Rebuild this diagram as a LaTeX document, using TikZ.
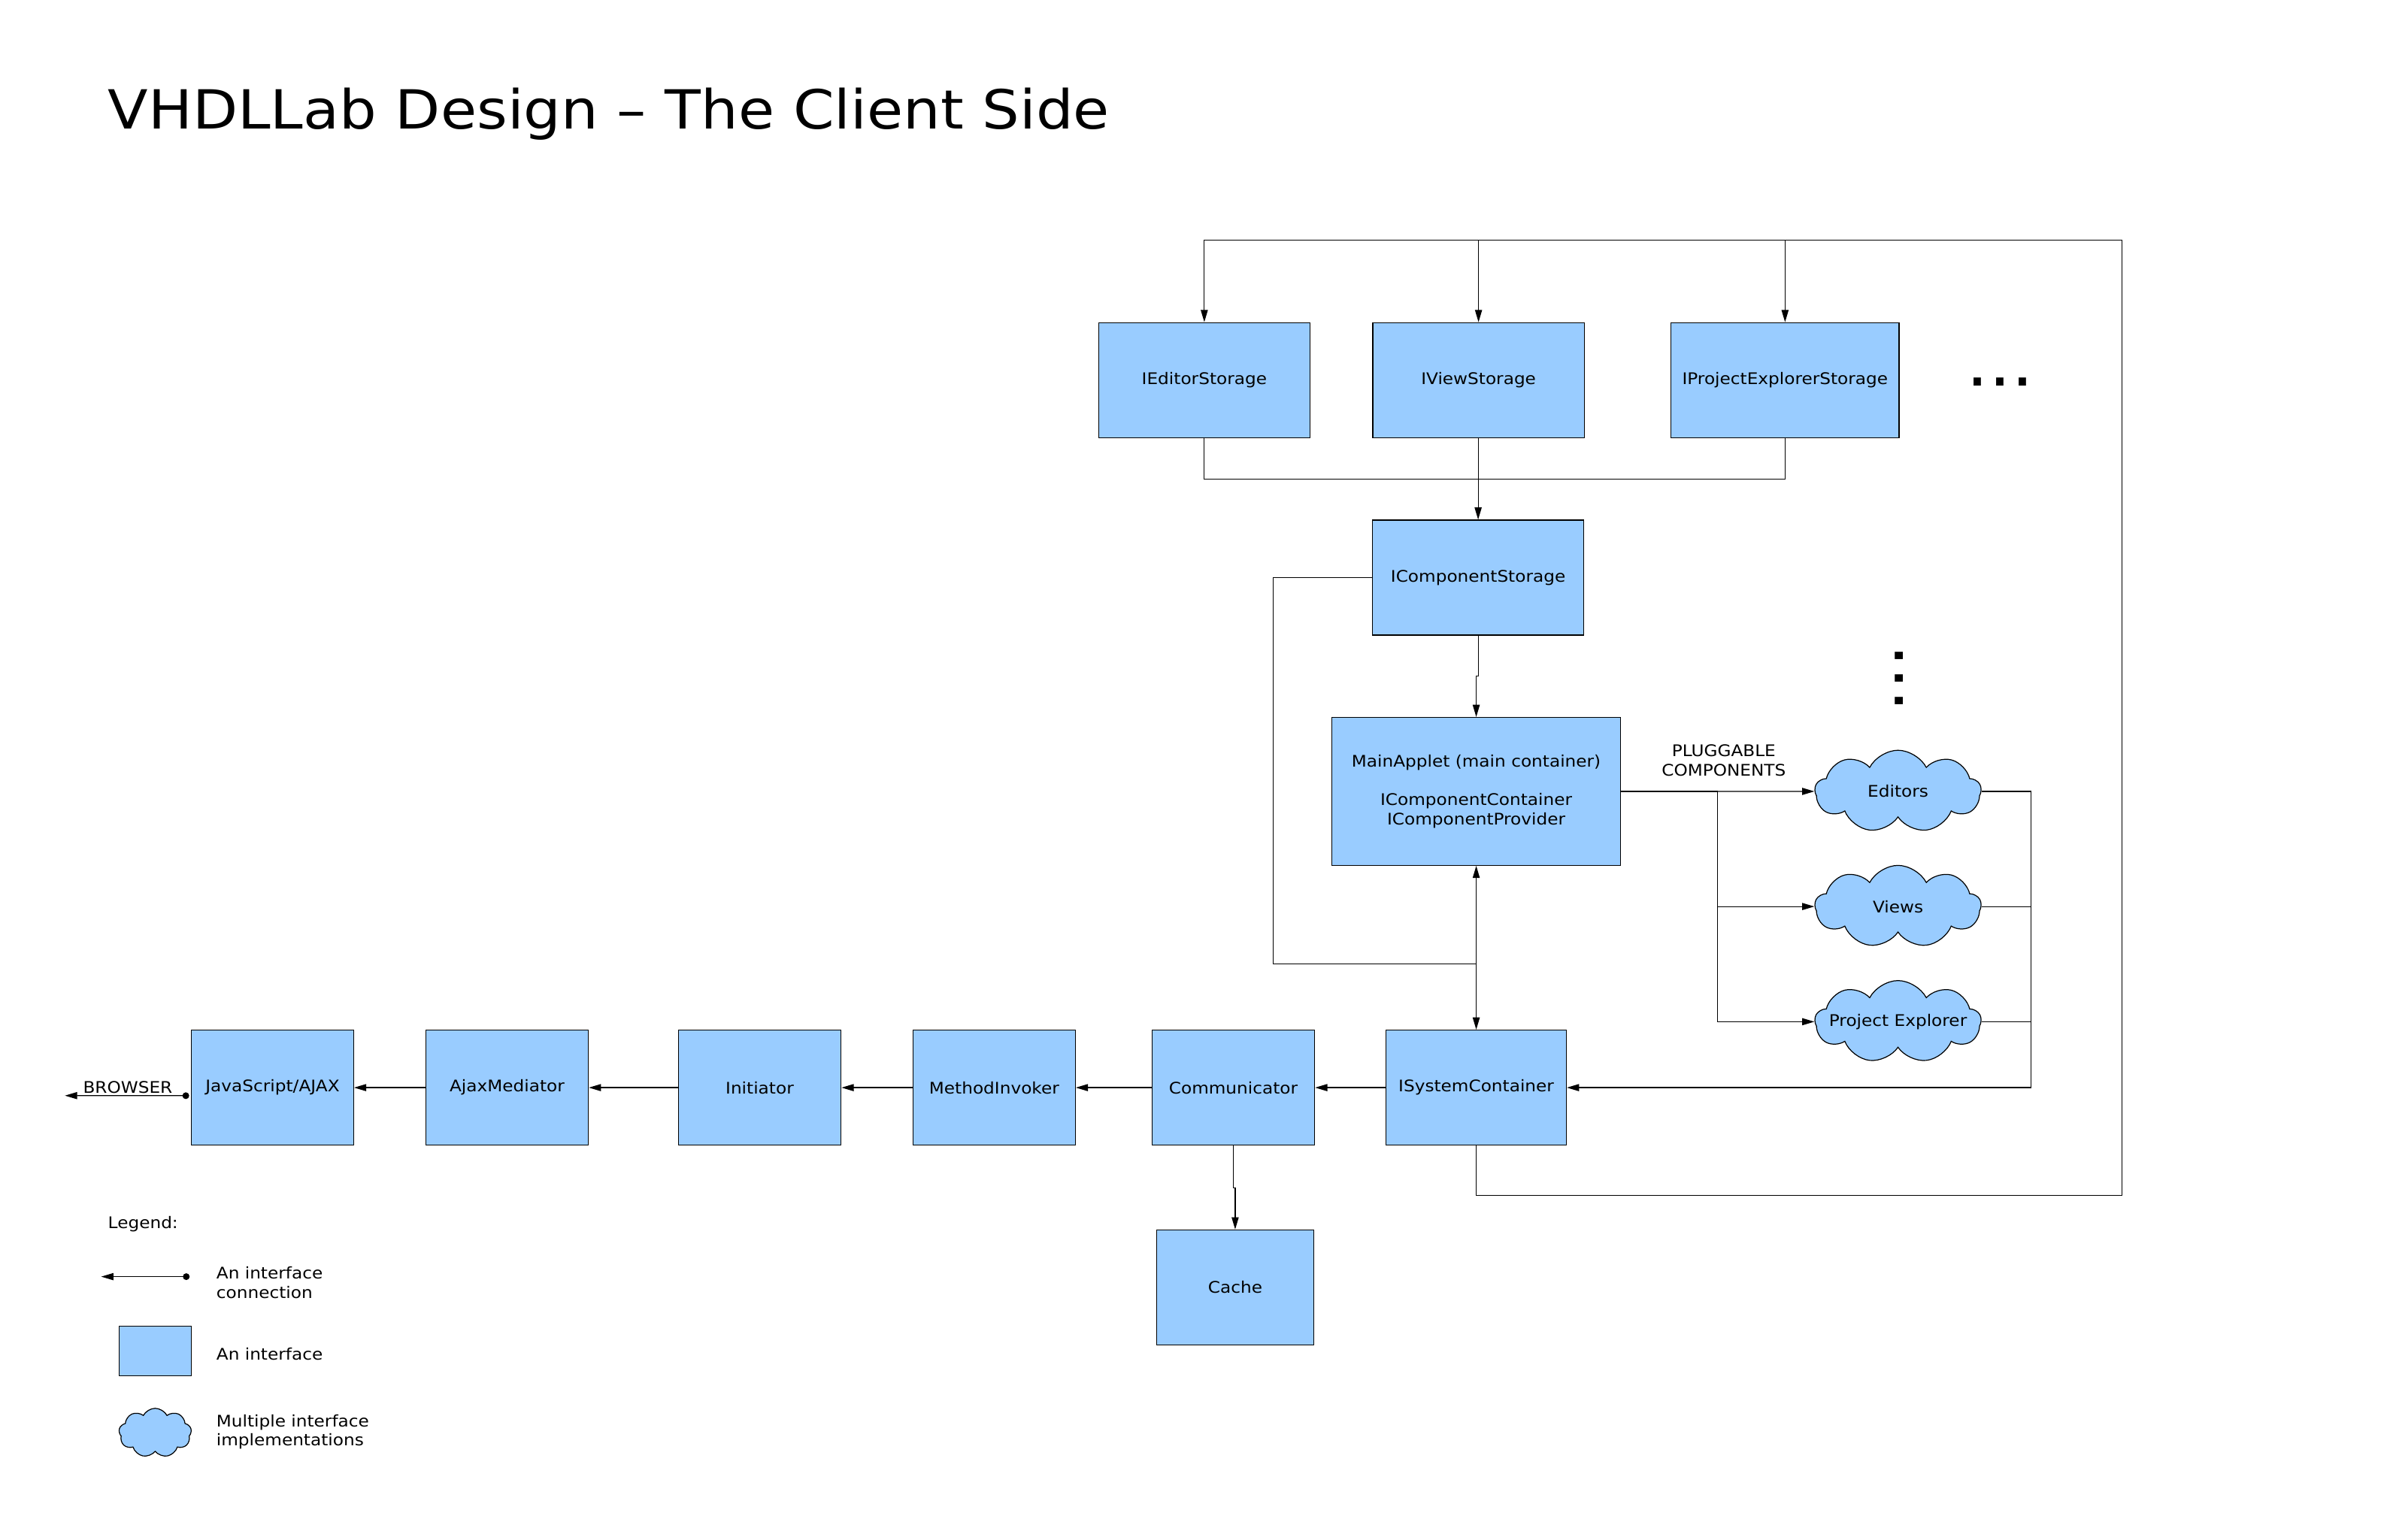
\documentclass[tikz,border=0pt]{standalone}
\usepackage{fontspec}
\setmainfont{DejaVu Sans}[FakeStretch=1.09]
\usetikzlibrary{arrows.meta,shapes.symbols}
\definecolor{ifblue}{RGB}{153,204,255}
\newcommand{\lblfont}{\fontsize{10.5}{12.7}\selectfont}
\newcommand{\ttlfont}{\fontsize{35.4}{42}\selectfont}
\newcommand{\dotsfont}{\fontsize{42.7}{50}\selectfont}

\begin{document}
\begin{tikzpicture}[x=1pt,y=-1pt,line width=0.6pt,font=\lblfont,
  >={Triangle[length=8pt,width=4.6pt]},
  iface/.style={draw,fill=ifblue,minimum width=#1,minimum height=75.5pt,inner sep=0pt,align=center},
  iface/.default=106.7pt,
  impl/.style={cloud,cloud puffs=9,cloud puff arc=125,cloud ignores aspect,draw,fill=ifblue,minimum width=109pt,minimum height=54pt,inner sep=0pt},
  iconn/.style={{Triangle[length=8pt,width=4.6pt]}-{Circle[length=4.4pt]}}
]
\useasboundingbox (0,0) rectangle (1568,1010.15);
\node[anchor=base west,inner sep=0pt,font=\ttlfont] (title) at (70.6,84.7) {VHDLLab Design – The Client Side};

\node[iface=138.8pt] (edst) at (790.1,249.45) {IEditorStorage};
\node[iface=138.8pt] (vwst) at (970,249.45) {IViewStorage};
\node[iface=149.6pt] (pest) at (1171.1,249.45) {IProjectExplorerStorage};
\node[font=\dotsfont,anchor=base,inner sep=0pt] (hdots) at (1312,253.2) {...};
\node[iface=138.5pt] (cst) at (969.75,379.05) {IComponentStorage};
\node[font=\dotsfont,anchor=base,inner sep=0pt,rotate=90] (vdots) at (1248.8,445) {...};
\node[iface=189.7pt,minimum height=97.1pt] (ma) at (968.5,519.35) {MainApplet (main container)\\[12.7pt]IComponentContainer\\IComponentProvider};
\node[align=center] (plug) at (1130.9,499.1) {PLUGGABLE\\COMPONENTS};
\node[impl,label=center:Editors] (ed) at (1245.2,519.35) {};
\node[impl,label=center:Views] (vw) at (1245.2,594.9) {};
\node[impl,label=center:Project Explorer] (pe) at (1245.2,670.5) {};
\node[iface=118.3pt] (isc) at (968.5,713.75) {ISystemContainer};
\node[iface] (comm) at (809.15,713.75) {Communicator};
\node[iface=106.5pt] (mi) at (652.25,713.75) {MethodInvoker};
\node[iface=106.8pt] (init) at (498.4,713.75) {Initiator};
\node[iface] (ajm) at (332.65,713.75) {AjaxMediator};
\node[iface=106.4pt] (js) at (178.8,713.75) {JavaScript/AJAX};
\node[iface=103.1pt] (cache) at (810.35,844.85) {Cache};
\node[anchor=base] (brtxt) at (83.8,717.6) {BROWSER};

\coordinate (tr) at (1392.2,157.6);
\draw[->] (isc.south) -- ++(0,32.6) -| (tr) -| (edst.north);
\draw[->] (vwst.north |- tr) -- (vwst.north);
\draw[->] (pest.north |- tr) -- (pest.north);
\coordinate (jn) at (970,314.4);
\draw (edst.south) |- (jn) -| (pest.south);
\draw (vwst.south) -- (jn);
\draw[->] (jn) -| (cst.north);
\draw[->] (cst.south) -- ++(0,26.5) -| (ma.north);
\coordinate (mid) at (968.5,632.6);
\draw (cst.west) -- ++(-65,0) |- (mid);
\draw[<->] (ma.south) -- (isc.north);
\coordinate (sp) at (1126.8,519.35);
\draw (ma.east) -- (sp);
\draw[->] (sp) -- (ed.west);
\draw[->] (sp) |- (vw.west);
\draw[->] (sp) |- (pe.west);
\coordinate (rc) at (1332.6,713.75);
\draw (ed.east) -| (rc);
\draw (vw.east) -| (rc);
\draw (pe.east) -| (rc);
\draw[->] (rc) -- (isc.east);
\draw[->] (isc) -- (comm);
\draw[->] (comm) -- (mi);
\draw[->] (mi) -- (init);
\draw[->] (init) -- (ajm);
\draw[->] (ajm) -- (js);
\draw[->] (comm.south) -- ++(0,27.8) -| (cache.north);
\coordinate (brw) at (42.6,719);
\draw[iconn] (brw) -- ([shift={(-1.2,5.3)}]js.west);

\node[anchor=base west,inner sep=0pt] (lgd) at (70.6,806.3) {Legend:};
\coordinate (lga) at (66.4,837.8);
\coordinate (lgb) at (124.4,837.8);
\draw[iconn] (lga) -- (lgb);
\node[anchor=north west,align=left,inner sep=0pt] (lgt1) at (141.7,831) {An interface\\connection};
\node[iface=47.6pt,minimum height=32.6pt] (lgbox) at (101.8,886.5) {};
\node[anchor=base west,inner sep=0pt] (lgt2) at (141.7,892.6) {An interface};
\node[impl,minimum width=47.6pt,minimum height=32.2pt] (lgcl) at (101.8,940.3) {};
\node[anchor=north west,align=left,inner sep=0pt] (lgt3) at (141.7,927.9) {Multiple interface\\implementations};
\end{tikzpicture}
\end{document}
